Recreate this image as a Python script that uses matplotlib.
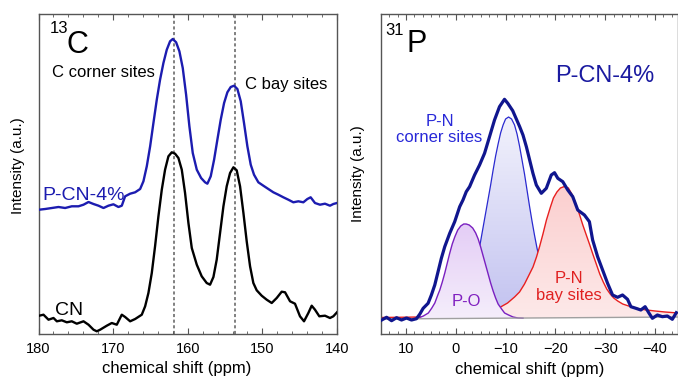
import numpy as np
import matplotlib.pyplot as plt
from matplotlib.patches import Polygon
from matplotlib.colors import LinearSegmentedColormap
from matplotlib.ticker import MultipleLocator, AutoMinorLocator

plt.rcParams['font.family'] = ['Liberation Sans', 'DejaVu Sans']

# 13C spectra (ppm, intensity in arbitrary units)
cn_ppm = [179.91, 179.33, 178.66, 177.99, 177.54, 176.88, 176.21, 175.54, 174.87, 173.97,
          173.30, 172.63, 172.19, 171.74, 170.85, 170.18, 169.51, 168.84, 168.39, 167.72,
          167.05, 166.16, 165.71, 165.27, 164.82, 164.38, 163.93, 163.48, 163.04, 162.59,
          162.14, 161.70, 161.25, 160.80, 160.36, 159.91, 159.46, 158.79, 158.13, 157.46,
          157.01, 156.56, 156.12, 155.67, 155.22, 154.78, 154.33, 153.88, 153.44, 152.99,
          152.54, 152.10, 151.65, 151.21, 150.76, 150.09, 149.42, 148.75, 148.08, 147.41,
          146.96, 146.29, 145.63, 144.96, 144.42, 143.84, 143.39, 142.95, 142.37, 141.61,
          140.94, 140.49, 140.0]
cn_int = [18.3, 19.3, 14.3, 16.0, 12.7, 13.7, 11.7, 12.7, 10.3, 12.7,
          9.3, 4.3, 2.7, 4.3, 8.3, 11.0, 9.3, 19.3, 17.0, 12.7,
          15.0, 19.3, 27.7, 41.0, 61.0, 87.7, 117.7, 144.3, 164.3, 177.7,
          181.7, 180.3, 176.0, 164.3, 141.0, 111.0, 86.0, 69.3, 57.7, 51.0,
          49.3, 57.0, 74.3, 101.0, 127.7, 147.7, 161.0, 166.7, 163.7, 147.7,
          121.0, 92.7, 67.7, 51.0, 43.7, 38.3, 34.3, 31.0, 36.0, 42.3,
          41.7, 32.7, 30.3, 17.7, 12.7, 21.0, 28.3, 24.3, 17.7, 18.3,
          16.0, 17.7, 21.7]

pcn_ppm = [179.91, 179.11, 178.21, 177.32, 176.43, 175.54, 174.64, 173.97, 173.30, 172.63,
           171.96, 171.29, 170.63, 169.96, 169.29, 168.84, 168.39, 167.72, 167.05, 166.38,
           165.94, 165.49, 165.04, 164.60, 164.15, 163.71, 163.26, 162.81, 162.37, 162.01,
           161.56, 161.12, 160.67, 160.22, 159.78, 159.33, 158.79, 158.21, 157.68, 157.37,
           156.92, 156.47, 156.03, 155.58, 155.13, 154.69, 154.24, 153.79, 153.35, 152.90,
           152.46, 152.01, 151.56, 151.12, 150.54, 149.87, 149.20, 148.53, 147.86, 147.19,
           146.52, 145.85, 145.18, 144.51, 143.97, 143.53, 142.95, 142.28, 141.61, 140.94,
           140.49, 140.0]
pcn_int = [124.3, 125.0, 126.0, 127.0, 126.0, 127.7, 127.7, 129.3, 132.0, 130.0,
           128.3, 126.0, 128.3, 129.7, 127.0, 128.3, 137.7, 140.3, 141.7, 145.0,
           152.7, 167.7, 187.7, 211.0, 234.3, 254.3, 271.0, 284.3, 292.7, 295.0,
           291.7, 282.7, 266.0, 239.3, 207.7, 181.0, 164.3, 156.0, 151.7, 150.3,
           157.7, 174.3, 194.3, 214.3, 231.0, 241.7, 247.0, 248.3, 245.0, 232.7,
           211.0, 187.7, 169.3, 159.3, 151.7, 148.3, 145.0, 141.7, 139.3, 136.7,
           134.3, 131.7, 132.7, 131.7, 135.0, 136.7, 131.0, 129.3, 130.3, 128.3,
           130.0, 131.0]

c_sites = [161.8, 153.7]

# 31P spectrum of P-CN-4% and its fitted components
p_ppm = [14.87, 13.88, 12.88, 11.88, 10.88, 9.88, 8.88, 7.88, 7.20, 6.54,
         5.55, 4.89, 4.21, 3.55, 2.89, 2.21, 1.21, 0.21, -0.79, -1.45,
         -2.11, -2.78, -3.78, -4.78, -5.78, -6.78, -7.78, -8.78, -9.78, -10.44,
         -11.43, -12.83, -13.49, -14.17, -14.83, -15.49, -16.17, -17.17, -18.17, -19.17,
         -19.82, -20.48, -21.48, -22.48, -23.48, -24.48, -25.82, -26.82, -27.47, -28.47,
         -29.47, -30.47, -31.47, -32.47, -33.47, -34.47, -35.15, -36.15, -37.14, -38.0,
         -38.80, -39.46, -40.46, -41.46, -42.46, -43.46, -44.26]
p_int = [14.0, 16.7, 13.3, 16.3, 14.0, 16.0, 14.0, 15.3, 20.0, 25.7,
         30.7, 39.0, 49.0, 62.3, 75.7, 87.3, 100.7, 112.3, 127.3, 134.0,
         142.3, 147.3, 159.0, 169.0, 180.7, 197.3, 214.0, 227.3, 234.7, 230.7,
         223.3, 207.3, 199.0, 187.3, 174.0, 160.7, 149.0, 140.7, 145.7, 159.0,
         161.3, 155.7, 152.3, 144.0, 137.3, 124.0, 119.0, 112.3, 94.0, 77.3,
         64.0, 50.7, 39.0, 36.7, 39.0, 34.7, 27.3, 25.7, 24.0, 27.3,
         20.7, 15.7, 19.0, 17.3, 18.0, 14.7, 21.3]

po_ppm = [8.5, 7.5, 6.5, 5.5, 4.8, 4.2, 3.6, 3.2, 2.7, 2.2,
          1.7, 1.2, 0.7, 0.2, -0.4, -1.0, -1.6, -2.1, -2.7, -3.4,
          -4.0, -4.5, -5.0, -5.5, -6.0, -6.5, -7.0, -7.5, -8.0, -8.5,
          -9.2, -9.8, -10.6, -11.5, -12.5, -13.5]
po_int = [15.2, 16.0, 18.0, 21.0, 26.0, 31.0, 39.0, 44.0, 52.0, 61.0,
          71.0, 81.0, 90.0, 97.0, 104.0, 108.0, 110.0, 110.0, 109.0, 106.0,
          101.0, 95.0, 87.0, 78.0, 69.0, 60.0, 51.0, 43.0, 36.0, 30.0,
          25.0, 21.0, 19.0, 17.0, 16.0, 15.8]

corner_ppm = [-4.5, -5.0, -5.5, -6.0, -6.5, -7.0, -7.5, -8.0, -8.5, -9.0,
              -9.5, -10.0, -10.6, -11.2, -11.8, -12.3, -12.8, -13.3, -13.8, -14.3,
              -14.8, -15.3, -15.8, -16.3, -16.8]
corner_int = [80, 93, 107, 121, 135, 149, 164, 178, 190, 201,
              209, 215, 217, 215, 209, 200, 188, 174, 160, 144,
              128, 113, 99, 86, 75]

bay_ppm = [15.0, 10.0, 5.0, 0.0, -3.0, -6.0, -8.0, -9.1, -10.4, -11.8,
           -12.8, -13.8, -14.5, -15.5, -16.2, -16.8, -17.5, -18.2, -19.0, -19.6,
           -20.3, -21.0, -21.8, -22.6, -23.4, -24.1, -24.8, -25.5, -26.2, -26.9,
           -27.5, -28.2, -28.9, -29.6, -30.3, -31.0, -31.7, -32.5, -33.5, -35.0,
           -36.5, -38.0, -40.0, -42.0, -44.6]
bay_int = [16.5, 16.8, 17.2, 17.8, 18.5, 20.5, 24.0, 27.3, 31.0, 37.0,
           42.0, 50.0, 57.0, 67.0, 77.0, 87.0, 100.0, 114.0, 127.0, 136.0,
           142.0, 146.0, 147.5, 146.0, 139.0, 130.0, 120.0, 109.0, 99.0, 89.0,
           80.0, 70.0, 60.0, 52.0, 45.0, 40.0, 36.0, 33.0, 30.0, 27.5,
           25.5, 24.2, 23.0, 22.0, 21.0]

base_ppm = [15.0, -44.6]
base_int = [15.0, 17.0]


def gradient_fill(ax, xs, ys, c_top, c_bot, z):
    xs = np.asarray(xs, dtype=float)
    ys = np.asarray(ys, dtype=float)
    yb = np.interp(xs, base_ppm[::-1], base_int[::-1])
    verts = np.column_stack([np.r_[xs, xs[::-1]], np.r_[ys, yb[::-1]]])
    patch = Polygon(verts, closed=True, facecolor='none', edgecolor='none')
    ax.add_patch(patch)
    cmap = LinearSegmentedColormap.from_list('grad', [c_bot, c_top])
    grad = np.linspace(0, 1, 256).reshape(-1, 1)
    im = ax.imshow(grad, cmap=cmap, aspect='auto', origin='lower',
                   extent=[xs.max(), xs.min(), yb.min(), ys.max()], zorder=z)
    im.set_clip_path(patch)


def style_axes(ax, minor_n):
    for sp in ax.spines.values():
        sp.set_color('#555555')
        sp.set_linewidth(1.0)
    ax.xaxis.set_major_locator(MultipleLocator(10))
    ax.xaxis.set_minor_locator(AutoMinorLocator(minor_n))
    ax.tick_params(which='both', direction='in', top=True, bottom=True,
                   left=False, right=False, labelleft=False, color='#555555')
    ax.tick_params(which='major', length=4.5, labelsize=10.5, pad=6)
    ax.tick_params(which='minor', length=2.5)
    ax.set_yticks([])


fig = plt.figure(figsize=(6.78, 3.8), dpi=100)
ax1 = fig.add_axes([38.5 / 678, 46 / 380, 298.5 / 678, 320 / 380])
ax2 = fig.add_axes([381 / 678, 46 / 380, 297 / 678, 320 / 380])

# ---- 13C panel
for s in c_sites:
    ax1.axvline(s, color='#808080', lw=1.4, ls=(0, (1.6, 1.3)), zorder=1)
ax1.plot(pcn_ppm, pcn_int, color='#1c1cb0', lw=1.7, zorder=3)
ax1.plot(cn_ppm, cn_int, color='black', lw=1.7, zorder=3)
ax1.set_xlim(180, 140)
ax1.set_ylim(0, 320)
style_axes(ax1, 5)

ax1.text(0.0385, 0.94, '13', transform=ax1.transAxes, fontsize=12, va='baseline')
ax1.text(0.093, 0.878, 'C', transform=ax1.transAxes, fontsize=22, va='baseline')
ax1.text(0.044, 0.802, 'C corner sites', transform=ax1.transAxes, fontsize=12, va='baseline')
ax1.text(0.692, 0.765, 'C bay sites', transform=ax1.transAxes, fontsize=12, va='baseline')
ax1.text(0.014, 0.419, 'P-CN-4%', transform=ax1.transAxes, fontsize=14,
         color='#1c1cb0', va='baseline')
ax1.text(0.055, 0.059, 'CN', transform=ax1.transAxes, fontsize=14, va='baseline')

ax1.set_xlabel('chemical shift (ppm)', fontsize=12)
ax1.set_ylabel('Intensity (a.u.)', fontsize=11)
ax1.xaxis.set_label_coords(0.463, -0.084)
ax1.yaxis.set_label_coords(-0.045, 0.525)

# ---- 31P panel
gradient_fill(ax2, corner_ppm, corner_int, '#f2f2fc', '#c2c2f0', 1)
ax2.plot(corner_ppm, corner_int, color='#2a2ad0', lw=0.9, zorder=1.5)
gradient_fill(ax2, bay_ppm, bay_int, '#fbcfcf', '#fde9e9', 2)
ax2.plot(bay_ppm, bay_int, color='#e82020', lw=1.0, zorder=2.5)
gradient_fill(ax2, po_ppm, po_int, '#e4cdf6', '#f5eefb', 3)
ax2.plot(po_ppm, po_int, color='#7a20c0', lw=1.0, zorder=3.5)
ax2.plot(base_ppm, base_int, color='#a0a0a0', lw=1.0, zorder=3.6)
ax2.plot(p_ppm, p_int, color='#10168e', lw=2.3, zorder=5)
ax2.set_xlim(15, -44.6)
ax2.set_ylim(0, 320)
style_axes(ax2, 6)

ax2.text(0.0135, 0.934, '31', transform=ax2.transAxes, fontsize=12, va='baseline')
ax2.text(0.0865, 0.882, 'P', transform=ax2.transAxes, fontsize=22, va='baseline')
ax2.text(0.586, 0.788, 'P-CN-4%', transform=ax2.transAxes, fontsize=17,
         color='#1a1aa0', va='baseline')
ax2.text(0.197, 0.65, 'P-N', transform=ax2.transAxes, fontsize=12,
         color='#2828d8', ha='center', va='baseline')
ax2.text(0.197, 0.60, 'corner sites', transform=ax2.transAxes, fontsize=12,
         color='#2828d8', ha='center', va='baseline')
ax2.text(0.289, 0.0875, 'P-O', transform=ax2.transAxes, fontsize=12,
         color='#8020c0', ha='center', va='baseline', zorder=6)
ax2.text(0.633, 0.16, 'P-N', transform=ax2.transAxes, fontsize=12,
         color='#e02020', ha='center', va='baseline', zorder=6)
ax2.text(0.633, 0.106, 'bay sites', transform=ax2.transAxes, fontsize=12,
         color='#e02020', ha='center', va='baseline', zorder=6)

ax2.set_xlabel('chemical shift (ppm)', fontsize=12)
ax2.set_ylabel('Intensity (a.u.)', fontsize=11)
ax2.xaxis.set_label_coords(0.5, -0.086)
ax2.yaxis.set_label_coords(-0.054, 0.5)

fig.savefig('out.png', dpi=100)
